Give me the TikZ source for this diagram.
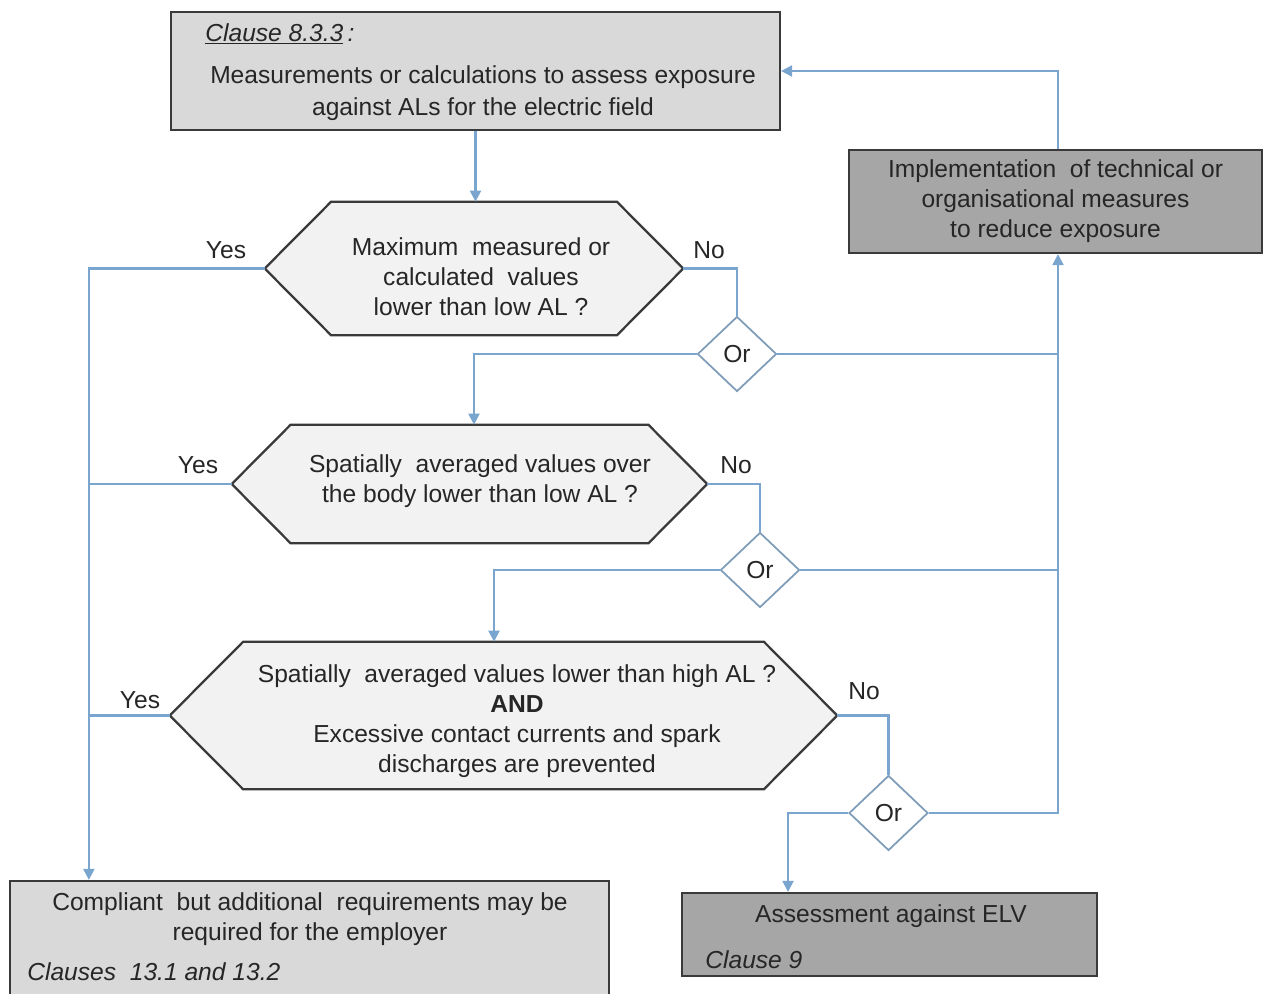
\documentclass[tikz,border=0pt]{standalone}
\usepackage{fontspec}
\setmainfont{Liberation Sans}
\usetikzlibrary{shapes.geometric,arrows.meta,calc}

\definecolor{boxline}{HTML}{3A3A3A}
\definecolor{fillA}{HTML}{D9D9D9}
\definecolor{fillB}{HTML}{A6A6A6}
\definecolor{fillC}{HTML}{F2F2F2}
\definecolor{textcol}{HTML}{262626}
\definecolor{linkcol}{HTML}{7AA5CF}
\definecolor{orline}{HTML}{7F9DB9}

% hexagon with 45 degree ends around an empty frame node
\newcommand{\hexframe}[2]{%
  \draw[hexline] (#1.west) -- ([xshift=#2]#1.north west) -- ([xshift=-#2]#1.north east)
    -- (#1.east) -- ([xshift=-#2]#1.south east) -- ([xshift=#2]#1.south west) -- cycle;}

\begin{document}
\begin{tikzpicture}[x=0.02cm,y=-0.02cm,
  txt/.style={font=\fontsize{14}{17}\selectfont, text=textcol, align=center, inner sep=0},
  boxlight/.style={draw=boxline, line width=1.3pt, fill=fillA, inner sep=0},
  boxdark/.style={draw=boxline, line width=1.3pt, fill=fillB, inner sep=0},
  frame/.style={draw=none, inner sep=0},
  hexline/.style={draw=boxline, line width=1.3pt, fill=fillC},
  ornode/.style={diamond, draw=orline, line width=1pt, fill=white,
    minimum width=1.58cm, minimum height=1.5cm, inner sep=0,
    font=\fontsize{14}{17}\selectfont, text=textcol},
  link/.style={draw=linkcol, line width=1.2pt},
  arr/.style={link, -{Triangle[length=2.2mm,width=2.2mm]}},
  lbl/.style={font=\fontsize{14}{17}\selectfont, text=textcol, inner sep=0}
]
\useasboundingbox (0,0) rectangle (1263,993);
\clip (0,0) rectangle (1263,993);

% boxes
\node[boxlight, minimum width=12.18cm, minimum height=2.36cm] (top) at (475.5,71) {};
\node[txt, anchor=west] (topclause) at (205,34) {\itshape\underline{Clause 8.3.3}\,:};
\node[txt, font=\fontsize{14}{18}\selectfont] (toptext) at (483,93)
  {Measurements or calculations to assess exposure\\against ALs for the electric field};

\node[boxdark, txt, minimum width=8.26cm, minimum height=2.06cm] (impl) at (1055.5,201.5)
  {Implementation\ \ of technical or\\organisational measures\\to reduce exposure};

\node[boxlight, minimum width=11.98cm, minimum height=2.58cm] (comp) at (309.5,945.5) {};
\node[txt] (comptext) at (310,919)
  {Compliant\ \ but additional\ \ requirements may be\\required for the employer};
\node[txt, anchor=west] (compclause) at (27,972) {\itshape Clauses\ \ 13.1 and 13.2};

\node[boxdark, minimum width=8.3cm, minimum height=1.66cm] (elv) at (889.5,934.5) {};
\node[txt] (elvtext) at (891,916) {Assessment against ELV};
\node[txt, anchor=west] (elvclause) at (705,960) {\itshape Clause 9};

% decision hexagons
\node[frame, minimum width=8.36cm, minimum height=2.66cm] (h1) at (474,268.5) {};
\node[frame, minimum width=9.5cm, minimum height=2.36cm] (h2) at (469.5,484) {};
\node[frame, minimum width=13.34cm, minimum height=2.94cm] (h3) at (503.5,715.5) {};
\hexframe{h1}{1.33cm}
\hexframe{h2}{1.18cm}
\hexframe{h3}{1.47cm}
\node[txt] (h1t) at (481,277) {Maximum\ \ measured or\\calculated\ \ values\\lower than low AL ?};
\node[txt] (h2t) at (480,481) {Spatially\ \ averaged values over\\the body lower than low AL ?};
\node[txt] (h3t) at (517,721) {Spatially\ \ averaged values lower than high AL ?\\\textbf{AND}\\Excessive contact currents and spark\\discharges are prevented};

% or gates
\node[ornode] (o1) at (737,354) {Or};
\node[ornode] (o2) at (760,570) {Or};
\node[ornode] (o3) at (888.5,813) {Or};

% labels
\node[lbl] (y1) at (226,250) {Yes};
\node[lbl] (n1) at (709,250) {No};
\node[lbl] (y2) at (198,465) {Yes};
\node[lbl] (n2) at (736,465) {No};
\node[lbl] (y3) at (140,700) {Yes};
\node[lbl] (n3) at (864,691) {No};

% connectors
\coordinate (bus) at ([xshift=1.6cm]comp.north west);
\coordinate (riser) at ([xshift=0.05cm]impl.south);
\coordinate (feedback) at ([xshift=0.05cm]impl.north);
\draw[arr] (top.south) -- (top.south |- h1.north);
\draw[arr] (h1.west) -| (bus);
\draw[link] (h2.west) -- (h2.west -| bus);
\draw[link] (h3.west) -- (h3.west -| bus);
\draw[link] (h1.east) -| (o1.north);
\draw[arr] (o1.west) -| ([xshift=0.09cm]h2.north);
\draw[link] (h2.east) -| (o2.north);
\draw[arr] (o2.west) -| ([xshift=-0.19cm]h3.north);
\draw[link] (h3.east) -| (o3.north);
\draw[arr] (o3.west) -| ([xshift=-2.03cm]elv.north);
\draw[arr] (o3.east) -| (riser);
\draw[link] (o1.east) -- (o1.east -| riser);
\draw[link] (o2.east) -- (o2.east -| riser);
\draw[arr] (feedback) |- (top.east);
\end{tikzpicture}
\end{document}
